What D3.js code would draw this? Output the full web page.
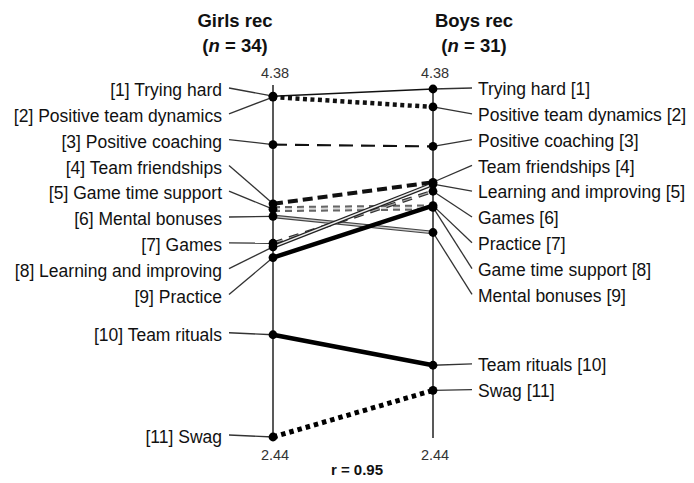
<!DOCTYPE html>
<html>
<head>
<meta charset="utf-8">
<script src="https://cdn.jsdelivr.net/npm/d3@7"></script>
<style>
  html, body { margin: 0; padding: 0; background: #fff; }
  svg { display: block; font-family: "Liberation Sans", Arial, sans-serif; }
</style>
</head>
<body>
<svg id="chart" width="694" height="483"></svg>
<script>
// ---- data ----
const groups = ["Girls rec", "Boys rec"];
const groupN = [34, 31];
const categories = ["Trying hard", "Positive team dynamics", "Positive coaching", "Team friendships",
  "Game time support", "Mental bonuses", "Games", "Learning and improving", "Practice",
  "Team rituals", "Swag"];
const girlsValues = [4.34, 4.335, 4.07, 3.74, 3.71, 3.67, 3.52, 3.50, 3.44, 3.01, 2.44];
const boysValues  = [4.38, 4.28, 4.06, 3.86, 3.72, 3.58, 3.81, 3.85, 3.73, 2.84, 2.70];
const tickLabels = [4.38, 2.44];
const correlation = "0.95";

// ---- styles (per category) ----
const lineStyle = {
  "Trying hard": [{ stroke: "#111", w: 1.6 }],
  "Positive team dynamics": [{ stroke: "#111", w: 4.5, dash: "4,3.5" }],
  "Positive coaching": [{ stroke: "#111", w: 2.2, dash: "14,8" }],
  "Team friendships": [{ stroke: "#111", w: 4, dash: "10,5" }],
  "Game time support": [{ stroke: "#666", w: 6, dash: "7,5" }, { stroke: "#d8d8d8", w: 2, dash: "7,5" }],
  "Mental bonuses": [{ stroke: "#444", w: 3.6 }, { stroke: "#ccc", w: 1.3 }],
  "Games": [{ stroke: "#333", w: 3.6, dash: "10,7" }, { stroke: "#aaa", w: 1.2, dash: "10,7" }],
  "Learning and improving": [{ stroke: "#222", w: 4 }, { stroke: "#eee", w: 1.5 }],
  "Practice": [{ stroke: "#000", w: 4.5 }],
  "Team rituals": [{ stroke: "#000", w: 4.5 }],
  "Swag": [{ stroke: "#000", w: 5, dash: "4.5,4" }]
};

const svg = d3.select("#chart");
const x = d3.scalePoint().domain(groups).range([273, 433]);
const y = d3.scaleLinear().domain([2.44, 4.38]).range([437, 89]);

const rows = categories.map((c, i) => ({ name: c, g: girlsValues[i], b: boysValues[i] }));

// ranks
function ranks(key) {
  const order = rows.map((r, i) => i).sort((a, b) => rows[b][key] - rows[a][key]);
  return { order };
}
const gR = ranks("g"), bR = ranks("b");

// label layout: relaxation with min gap and top clamp
function layout(ideals, gap, top) {
  const p = ideals.slice();
  for (let it = 0; it < 3000; it++) {
    for (let i = 0; i < p.length - 1; i++) {
      const d = p[i + 1] - p[i];
      if (d < gap) { const s = (gap - d) / 2; p[i] -= s; p[i + 1] += s; }
    }
    if (p[0] < top) p[0] = top;
  }
  return p;
}
const GAP = 25.8;
const gLab = layout(gR.order.map(i => y(rows[i].g)), GAP, y(4.38) + 1);
const bLab = layout(bR.order.map(i => y(rows[i].b)), GAP, y(4.38));

// slope lines
const lineGen = d3.line().x(d => d[0]).y(d => d[1]);
const gLines = svg.append("g");
rows.forEach(r => {
  const pts = [[x(groups[0]), y(r.g)], [x(groups[1]), y(r.b)]];
  lineStyle[r.name].forEach(s => {
    gLines.append("path")
      .attr("d", lineGen(pts))
      .attr("fill", "none")
      .attr("stroke", s.stroke)
      .attr("stroke-width", s.w)
      .attr("stroke-dasharray", s.dash || null);
  });
});

// axes
groups.forEach(gname => {
  svg.append("line")
    .attr("x1", x(gname)).attr("x2", x(gname))
    .attr("y1", y(4.38) - 4).attr("y2", y(2.44) + 1)
    .attr("stroke", "#222").attr("stroke-width", 1.5);
  svg.append("text").attr("x", x(gname) + 2).attr("y", y(tickLabels[0]) - 11)
    .attr("text-anchor", "middle").attr("font-size", 14.5).attr("fill", "#333")
    .text(tickLabels[0].toFixed(2));
  svg.append("text").attr("x", x(gname) + 2).attr("y", y(tickLabels[1]) + 23)
    .attr("text-anchor", "middle").attr("font-size", 14.5).attr("fill", "#333")
    .text(tickLabels[1].toFixed(2));
});

// labels + connectors
const FS = 17.5;
gR.order.forEach((idx, k) => {
  const ly = gLab[k];
  svg.append("line").attr("x1", 229).attr("y1", ly - 2)
    .attr("x2", x(groups[0])).attr("y2", y(rows[idx].g))
    .attr("stroke", "#333").attr("stroke-width", 1.3);
  svg.append("text").attr("x", 222).attr("y", ly).attr("dy", "0.35em")
    .attr("text-anchor", "end").attr("font-size", FS).attr("fill", "#111")
    .text(`[${k + 1}] ${rows[idx].name}`);
});
bR.order.forEach((idx, k) => {
  const ly = bLab[k];
  svg.append("line").attr("x1", x(groups[1])).attr("y1", y(rows[idx].b))
    .attr("x2", 472).attr("y2", ly - 1)
    .attr("stroke", "#333").attr("stroke-width", 1.3);
  svg.append("text").attr("x", 478).attr("y", ly).attr("dy", "0.35em")
    .attr("text-anchor", "start").attr("font-size", FS).attr("fill", "#111")
    .text(`${rows[idx].name} [${k + 1}]`);
});

// dots
rows.forEach(r => {
  svg.append("circle").attr("cx", x(groups[0])).attr("cy", y(r.g)).attr("r", 4.4).attr("fill", "#000");
  svg.append("circle").attr("cx", x(groups[1])).attr("cy", y(r.b)).attr("r", 4.4).attr("fill", "#000");
});

// titles
const titleX = [x(groups[0]) - 38, x(groups[1]) + 41];
groups.forEach((gname, i) => {
  svg.append("text").attr("x", titleX[i]).attr("y", 27)
    .attr("text-anchor", "middle").attr("font-size", 18.5).attr("font-weight", "bold").attr("fill", "#111")
    .text(gname);
  const t = svg.append("text").attr("x", titleX[i]).attr("y", 52)
    .attr("text-anchor", "middle").attr("font-size", 18.5).attr("font-weight", "bold").attr("fill", "#111");
  t.append("tspan").text("(");
  t.append("tspan").attr("font-style", "italic").text("n");
  t.append("tspan").text(` = ${groupN[i]})`);
});

svg.append("text").attr("x", 357).attr("y", 475)
  .attr("text-anchor", "middle").attr("font-size", 15).attr("font-weight", "bold").attr("fill", "#111")
  .text(`r = ${correlation}`);
</script>
</body>
</html>
